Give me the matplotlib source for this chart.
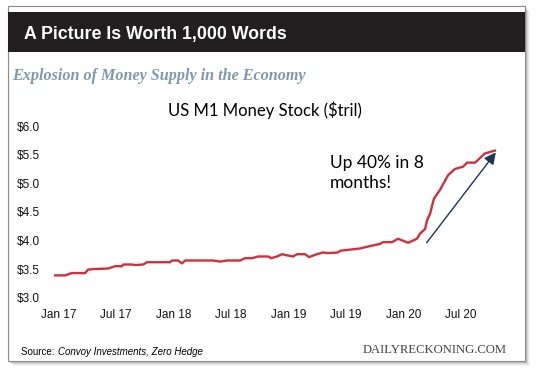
#importing libraries
import numpy as np
import pandas as pd
import matplotlib
matplotlib.use('Agg')
import matplotlib.pyplot as plt
from matplotlib.patches import Rectangle

#US M1 money stock, $ trillions
dates = ['2016-12-19','2017-01-20','2017-02-10','2017-03-25','2017-04-03','2017-04-19','2017-06-06','2017-06-28','2017-07-20','2017-07-24',
         '2017-08-21','2017-08-31','2017-09-25','2017-10-08','2017-12-20','2017-12-26','2018-01-14','2018-01-27','2018-02-06','2018-05-06',
         '2018-05-28','2018-06-19','2018-07-31','2018-08-15','2018-09-07','2018-09-26','2018-10-28','2018-11-06','2018-11-25','2018-12-11',
         '2018-12-27','2019-01-15','2019-01-28','2019-02-22','2019-03-07','2019-04-01','2019-04-20','2019-05-06','2019-06-07','2019-06-14',
         '2019-08-16','2019-09-07','2019-10-19','2019-10-28','2019-11-26','2019-12-15','2020-01-16','2020-02-13','2020-02-23','2020-03-10',
         '2020-03-16','2020-03-26','2020-04-07','2020-04-26','2020-05-22','2020-06-13','2020-07-09','2020-07-21','2020-08-16','2020-09-16',
         '2020-10-18']
m1 = [3.39,3.39,3.43,3.43,3.49,3.50,3.51,3.55,3.55,3.58,
      3.58,3.57,3.58,3.62,3.62,3.65,3.65,3.60,3.65,3.65,
      3.63,3.65,3.65,3.69,3.69,3.72,3.72,3.69,3.72,3.76,
      3.74,3.72,3.76,3.76,3.71,3.76,3.79,3.78,3.79,3.82,
      3.86,3.89,3.94,3.97,3.97,4.03,3.96,4.03,4.12,4.20,
      4.35,4.47,4.73,4.88,5.14,5.25,5.29,5.36,5.36,5.52,
      5.57]

tick_dates = ['2017-01-01','2017-07-01','2018-01-01','2018-07-01','2019-01-01','2019-07-01','2020-01-01','2020-07-01']
tick_labels = ['Jan 17','Jul 17','Jan 18','Jul 18','Jan 19','Jul 19','Jan 20','Jul 20']
y_ticks = [3.0,3.5,4.0,4.5,5.0,5.5,6.0]

#arrow from start to end of the surge
arrow_start = ('2020-03-15', 3.96)
arrow_end = ('2020-10-21', 5.54)

W, H = 540, 372
def fx(px): return px / W
def fy(py): return 1 - py / H

fig = plt.figure(figsize=(5.4, 3.72), dpi=100)
fig.patch.set_facecolor('white')

#frame with a soft drop shadow
for k, a in [(5, 0.06), (4, 0.08), (3, 0.12), (2, 0.18)]:
    fig.patches.append(Rectangle((fx(7.5 + k), fy(361 + k)), fx(517.5), (361 - 6) / H,
                                 transform=fig.transFigure, facecolor='#555555', edgecolor='none', alpha=a, zorder=0))
fig.patches.append(Rectangle((fx(7.5), fy(361)), fx(517.5), (361 - 6) / H, transform=fig.transFigure,
                             facecolor='white', edgecolor='#8a8a8a', lw=0.8, zorder=1))
#black header band
fig.patches.append(Rectangle((fx(7.5), fy(52)), fx(517.5), (52 - 12) / H, transform=fig.transFigure,
                             facecolor='#231f20', edgecolor='none', zorder=2))

fig.text(fx(24), fy(35), 'A Picture Is Worth 1,000 Words', color='white', fontsize=12.8,
         fontweight='bold', family='Liberation Sans', va='center', ha='left', zorder=3)
fig.text(fx(12), fy(76), 'Explosion of Money Supply in the Economy', color='#7f98ad', fontsize=11.6,
         fontweight='bold', fontstyle='italic', family='Liberation Serif', va='center', ha='left', zorder=3)
fig.text(fx(265), fy(110), 'US M1 Money Stock ($tril)', color='black', fontsize=12,
         family='Lato', va='center', ha='center', zorder=3)

src = fig.text(fx(21), fy(352), 'Source: ', fontsize=7, family='Liberation Sans', va='center', ha='left', zorder=3)
r = fig.canvas.get_renderer()
src_w = src.get_window_extent(renderer=r).width
fig.text(fx(21 + src_w + 1), fy(352), 'Convoy Investments, Zero Hedge', fontsize=7, family='Liberation Sans',
         fontstyle='italic', va='center', ha='left', zorder=3)
fig.text(fx(507), fy(350), 'DAILYRECKONING.COM', fontsize=9.1, family='Liberation Serif', color='#444444',
         va='center', ha='right', zorder=3)

#plot area
ax = fig.add_axes([fx(44), fy(297.7), fx(466), (297.7 - 126) / H])
ax.set_zorder(5)
ax.set_facecolor('none')
x = pd.to_datetime(dates)
ax.plot(x, m1, color='#d42e3b', lw=1.7, solid_joinstyle='round')

ax.set_ylim(3.0, 6.0)
ax.set_xlim(pd.Timestamp('2017-01-01') - pd.Timedelta(days=48), pd.Timestamp('2017-01-01') + pd.Timedelta(days=1434))
ax.set_yticks(y_ticks)
ax.set_yticklabels(['$%.1f' % v for v in y_ticks])
ax.set_xticks(pd.to_datetime(tick_dates))
ax.set_xticklabels(tick_labels)
ax.tick_params(axis='both', length=0, labelsize=8.5, labelcolor='#111111')
ax.tick_params(axis='x', pad=8)
ax.tick_params(axis='y', pad=3)
for lab in ax.get_xticklabels() + ax.get_yticklabels():
    lab.set_family('Liberation Sans')
for s in ax.spines.values():
    s.set_visible(False)

ax.annotate('', xy=(pd.Timestamp(arrow_end[0]), arrow_end[1]),
            xytext=(pd.Timestamp(arrow_start[0]), arrow_start[1]),
            arrowprops=dict(arrowstyle='-|>,head_length=0.5,head_width=0.25', color='#1d3557', lw=1.0,
                            mutation_scale=14, shrinkA=0, shrinkB=0))
ax.text(pd.Timestamp('2019-05-13'), 5.18, 'Up 40% in 8\nmonths!', fontsize=12.5, family='Lato',
        va='center', ha='left', linespacing=1.25)

plt.savefig('out.png', dpi=100)
